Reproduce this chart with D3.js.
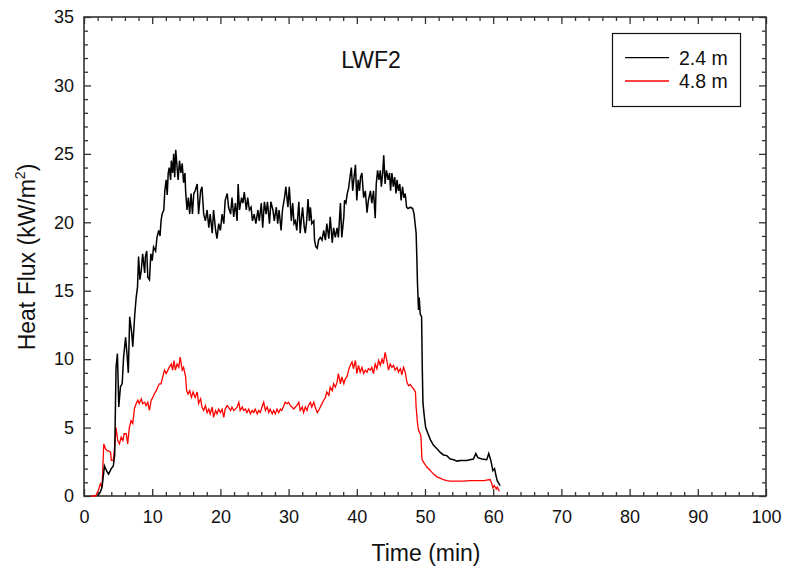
<!DOCTYPE html>
<html><head><meta charset="utf-8">
<script src="https://cdn.jsdelivr.net/npm/d3@7/dist/d3.min.js"></script>
<style>body{margin:0;background:#fff;}svg{display:block;font-family:"Liberation Sans",Arial,sans-serif;}</style>
</head><body>
<svg id="c" width="786" height="573"></svg>
<script>
// ---- data ----
const chartTitle = "LWF2";
const seriesNames = ["2.4 m", "4.8 m"];
const xTicks = [0,10,20,30,40,50,60,70,80,90,100];
const yTicks = [0,5,10,15,20,25,30,35];

const time24 = [2.0,2.4,2.65,3.0,3.3,3.6,4.0,4.3,4.5,4.7,4.9,5.1,5.35,5.6,5.8,6.1,6.3,6.5,6.7,7.0,7.15,7.45,7.65,7.85,8.0,8.2,8.4,8.6,8.9,9.0,9.2,9.35,9.6,9.8,10.0,10.2,10.5,10.7,10.95,11.15,11.3,11.45,11.7,11.85,12.05,12.2,12.35,12.5,12.7,12.8,13.0,13.15,13.3,13.45,13.65,13.8,14.0,14.2,14.4,14.6,14.8,14.9,15.1,15.3,15.5,15.7,15.9,16.1,16.3,16.6,16.8,17.1,17.3,17.55,17.8,18.05,18.3,18.5,18.8,19.0,19.3,19.5,19.75,20.0,20.25,20.5,20.7,21.0,21.2,21.5,21.7,21.95,22.2,22.45,22.6,22.8,23.1,23.3,23.5,23.8,24.0,24.25,24.5,24.7,24.95,25.2,25.5,25.7,26.0,26.2,26.45,26.7,26.9,27.2,27.4,27.7,27.9,28.2,28.4,28.6,28.9,29.1,29.4,29.6,29.9,30.1,30.4,30.6,30.8,31.0,31.2,31.5,31.7,31.9,32.05,32.3,32.45,32.65,32.85,33.05,33.2,33.4,33.7,33.8,34.0,34.2,34.4,34.65,34.9,35.15,35.4,35.6,35.9,36.1,36.4,36.6,36.85,37.1,37.3,37.6,37.8,38.1,38.2,38.4,38.6,38.8,39.0,39.2,39.4,39.6,39.8,40.0,40.2,40.4,40.55,40.75,41.0,41.25,41.5,41.7,42.0,42.2,42.45,42.7,42.85,43.05,43.25,43.45,43.6,43.8,43.95,44.15,44.35,44.6,44.8,44.95,45.15,45.35,45.55,45.75,45.9,46.1,46.3,46.5,46.7,46.9,47.1,47.3,47.5,47.85,48.2,48.4,48.7,48.8,48.9,49.05,49.15,49.3,49.5,49.6,49.7,49.9,50.1,50.4,50.8,51.25,51.75,52.2,52.7,53.2,53.7,54.2,54.7,55.2,55.65,56.1,56.6,57.1,57.45,57.75,58.35,59.05,59.35,59.65,59.95,60.2,60.45,60.6,60.85,61.0];
const flux24 = [0,0.3,0.65,2.2,1.85,1.6,2.0,2.2,3.0,9.4,10.4,6.5,8.0,8.2,10.1,11.6,10.4,9.0,13.1,11.9,10.9,13.3,14.5,15.3,17.5,15.8,16.5,17.7,16.3,17.5,17.9,16.0,15.8,17.7,17.2,18.2,17.9,18.9,19.4,19.0,20.1,20.6,20.9,22.3,23.1,22.0,23.6,24.0,23.1,24.5,23.6,25.0,23.3,25.3,24.0,23.1,24.5,23.6,24.3,22.9,23.6,22.3,20.9,21.8,20.6,22.1,20.6,22.1,22.3,22.8,20.6,22.3,22.6,20.6,20.1,20.9,19.6,20.6,19.2,20.9,19.4,18.8,19.9,19.4,20.6,19.9,21.6,22.1,21.1,20.6,21.8,20.4,21.4,20.1,22.8,20.9,21.8,21.4,22.2,20.9,21.8,20.9,21.1,20.1,20.6,19.9,20.9,20.1,21.4,19.6,21.5,20.6,21.5,19.9,21.5,20.9,20.1,21.1,19.9,20.9,19.4,20.9,21.8,22.6,21.1,22.6,20.1,21.4,19.9,20.1,19.4,21.5,19.2,20.4,21.1,19.6,19.2,20.1,21.7,20.1,21.1,19.9,20.1,18.7,18.2,18.1,18.7,18.9,18.7,19.4,18.7,19.9,18.8,20.4,18.5,19.6,18.9,19.6,18.9,21.4,18.9,20.4,21.6,21.4,22.1,22.5,23.3,24.0,22.3,23.3,24.2,21.6,23.1,22.3,23.3,23.6,21.8,22.3,20.7,21.6,22.3,21.4,22.3,20.3,22.8,23.8,23.1,23.8,22.6,23.6,24.9,22.8,23.8,23.1,23.6,22.3,23.6,22.6,23.3,22.1,23.1,22.3,22.8,21.6,22.6,21.8,22.1,21.1,21.0,21.1,21.0,20.6,19.2,17.5,15.5,13.6,14.5,13.3,13.1,9.4,6.8,5.8,5.0,4.6,4.1,3.7,3.45,3.2,3.0,2.95,2.7,2.65,2.55,2.6,2.6,2.6,2.65,2.7,3.1,2.8,2.7,2.65,3.1,2.6,1.85,2.0,1.4,1.1,0.9,0.75];

const time48 = [1.0,1.7,2.1,2.4,2.65,2.9,3.15,3.4,3.6,3.9,4.0,4.3,4.5,4.7,4.95,5.2,5.45,5.7,5.9,6.2,6.4,6.65,6.9,7.15,7.4,7.65,7.9,8.1,8.4,8.6,8.9,9.1,9.35,9.6,9.85,10.1,10.3,10.6,10.8,11.05,11.3,11.55,11.8,12.05,12.3,12.5,12.8,13.0,13.2,13.4,13.65,13.9,14.1,14.4,14.6,14.9,15.05,15.25,15.5,15.75,16.0,16.3,16.6,16.8,17.1,17.3,17.55,17.8,18.05,18.3,18.5,18.8,19.0,19.3,19.5,19.75,20.0,20.25,20.5,20.7,21.0,21.2,21.5,21.7,21.95,22.2,22.45,22.7,22.9,23.2,23.4,23.65,23.9,24.15,24.4,24.65,24.9,25.1,25.4,25.6,25.85,26.1,26.35,26.6,26.85,27.1,27.3,27.6,27.8,28.05,28.3,28.55,28.8,29.0,29.3,29.5,29.8,30.0,30.25,30.5,30.75,31.0,31.2,31.5,31.7,32.0,32.2,32.45,32.7,32.9,33.2,33.4,33.7,33.9,34.2,34.4,34.65,34.9,35.15,35.4,35.6,35.9,36.1,36.4,36.6,36.85,37.1,37.3,37.6,37.8,38.1,38.3,38.55,38.8,39.05,39.3,39.5,39.8,40.0,40.25,40.5,40.75,41.0,41.25,41.5,41.7,42.0,42.2,42.45,42.7,42.95,43.2,43.45,43.7,43.9,44.15,44.4,44.65,44.9,45.15,45.4,45.6,45.9,46.1,46.4,46.6,46.85,47.1,47.35,47.6,47.85,48.1,48.3,48.6,48.7,48.9,49.05,49.2,49.4,49.55,49.8,50.3,50.8,51.25,51.75,52.2,52.7,53.2,53.7,54.7,55.65,56.6,57.6,58.6,59.55,59.8,59.95,60.15,60.45,60.6,60.9];
const flux48 = [0,0,0.4,0.9,0.65,3.8,3.45,3.3,3.3,3.2,2.6,2.6,3.6,5.0,4.05,3.8,4.3,4.05,4.55,4.55,3.8,5.0,5.5,5.3,6.4,6.75,7.0,6.75,7.1,6.75,6.85,6.6,6.85,6.25,7.0,7.2,7.45,7.7,7.95,8.2,8.2,8.7,9.2,8.95,9.2,9.4,9.65,9.2,9.9,9.2,9.65,9.4,10.15,9.2,9.4,8.7,7.7,7.45,7.7,7.2,7.6,7.2,7.6,6.75,7.1,6.5,6.25,6.6,6.1,6.35,6.0,6.5,5.75,6.25,6.0,6.35,6.1,6.35,5.75,6.35,6.6,6.5,6.25,6.5,6.25,6.35,6.5,6.85,6.25,6.5,6.25,6.35,6.1,6.35,6.0,6.25,6.1,6.35,6.0,6.25,6.1,6.5,6.85,6.25,6.5,6.1,6.35,6.0,6.25,6.0,6.35,6.1,6.35,6.25,6.6,6.85,6.75,6.85,6.6,6.5,6.35,6.5,6.6,6.85,6.25,6.5,6.1,6.5,6.25,6.6,6.85,6.5,6.85,6.5,6.1,6.25,6.5,6.75,7.0,7.2,7.6,7.35,7.95,7.7,8.2,7.95,8.3,8.95,8.2,8.7,8.2,8.55,8.7,9.2,9.55,9.8,9.3,9.9,8.95,9.55,9.05,9.4,8.95,9.2,9.05,9.3,9.2,9.4,8.95,9.65,9.3,9.9,9.55,10.0,9.65,10.5,9.9,9.2,9.65,9.4,9.55,9.2,9.4,9.05,9.3,8.85,9.4,9.05,8.3,8.05,8.15,7.95,7.85,7.6,6.5,5.3,4.8,4.65,4.4,2.7,2.45,2.1,1.85,1.6,1.4,1.3,1.2,1.13,1.08,1.08,1.08,1.13,1.13,1.13,1.2,0.9,0.6,0.77,0.52,0.65,0.35];

// ---- drawing ----
const W = 786, H = 573;
const m = {left: 84, top: 17, right: 20, bottom: 77};
const iw = W - m.left - m.right, ih = H - m.top - m.bottom;
const svg = d3.select("#c");
const g = svg.append("g").attr("transform", `translate(${m.left},${m.top})`);
const x = d3.scaleLinear().domain([0, 100]).range([0, iw]);
const y = d3.scaleLinear().domain([0, 35]).range([ih, 0]);
const minorX = d3.range(0, 101, 2).filter(v => v % 10 !== 0);
const minorY = d3.range(0, 36, 1).filter(v => v % 5 !== 0);
const axisCol = "#333";

function styleAxis(sel, showText) {
  sel.select(".domain").remove();
  sel.selectAll("line").attr("stroke", axisCol).attr("stroke-width", 1.3);
  sel.selectAll("text").attr("fill", "#111").attr("font-size", 18);
  if (!showText) sel.selectAll("text").remove();
}
// bottom
g.append("g").attr("transform", `translate(0,${ih})`)
  .call(d3.axisBottom(x).tickValues(xTicks).tickSize(-7).tickPadding(14).tickFormat(d3.format("d")))
  .call(s => styleAxis(s, true));
g.append("g").attr("transform", `translate(0,${ih})`)
  .call(d3.axisBottom(x).tickValues(minorX).tickSize(-4)).call(s => styleAxis(s, false));
// top
g.append("g").call(d3.axisTop(x).tickValues(xTicks).tickSize(-7)).call(s => styleAxis(s, false));
g.append("g").call(d3.axisTop(x).tickValues(minorX).tickSize(-4)).call(s => styleAxis(s, false));
// left
g.append("g").call(d3.axisLeft(y).tickValues(yTicks).tickSize(-7).tickPadding(10).tickFormat(d3.format("d")))
  .call(s => styleAxis(s, true));
g.append("g").call(d3.axisLeft(y).tickValues(minorY).tickSize(-4)).call(s => styleAxis(s, false));
// right
g.append("g").attr("transform", `translate(${iw},0)`)
  .call(d3.axisRight(y).tickValues(yTicks).tickSize(-7)).call(s => styleAxis(s, false));
g.append("g").attr("transform", `translate(${iw},0)`)
  .call(d3.axisRight(y).tickValues(minorY).tickSize(-4)).call(s => styleAxis(s, false));

// frame
g.append("rect").attr("width", iw).attr("height", ih).attr("fill", "none")
  .attr("stroke", axisCol).attr("stroke-width", 1.6);

// lines
const line = d3.line().x(d => x(d[0])).y(d => y(d[1]));
const d48 = time48.map((t, i) => [t, flux48[i]]);
const d24 = time24.map((t, i) => [t, flux24[i]]);
g.append("path").datum(d48).attr("d", line).attr("fill", "none").attr("stroke", "#ff0000").attr("stroke-width", 1.3);
g.append("path").datum(d24).attr("d", line).attr("fill", "none").attr("stroke", "#000").attr("stroke-width", 1.5);

// title
svg.append("text").attr("x", 371).attr("y", 68).attr("text-anchor", "middle")
  .attr("font-size", 23).attr("fill", "#111").text(chartTitle);

// axis titles
svg.append("text").attr("x", 426).attr("y", 561).attr("text-anchor", "middle")
  .attr("font-size", 23).attr("fill", "#111").text("Time (min)");
const yt = svg.append("text").attr("transform", "translate(35,257) rotate(-90)")
  .attr("text-anchor", "middle").attr("font-size", 23).attr("fill", "#111");
yt.append("tspan").text("Heat Flux (kW/m");
yt.append("tspan").attr("font-size", 14).attr("dy", -10).text("2");
yt.append("tspan").attr("dy", 10).text(")");

// legend
const lg = svg.append("g");
lg.append("rect").attr("x", 612.5).attr("y", 33.5).attr("width", 128).attr("height", 73)
  .attr("fill", "#fff").attr("stroke", "#111").attr("stroke-width", 1.2);
const legCols = ["#000", "#ff0000"];
seriesNames.forEach((n, i) => {
  const yy = 57.7 + i * 23.3;
  lg.append("line").attr("x1", 625).attr("x2", 669).attr("y1", yy).attr("y2", yy)
    .attr("stroke", legCols[i]).attr("stroke-width", 1.3);
  lg.append("text").attr("x", 679).attr("y", yy + 7.3).attr("font-size", 19.5).attr("fill", "#111").text(n);
});
</script>
</body></html>
